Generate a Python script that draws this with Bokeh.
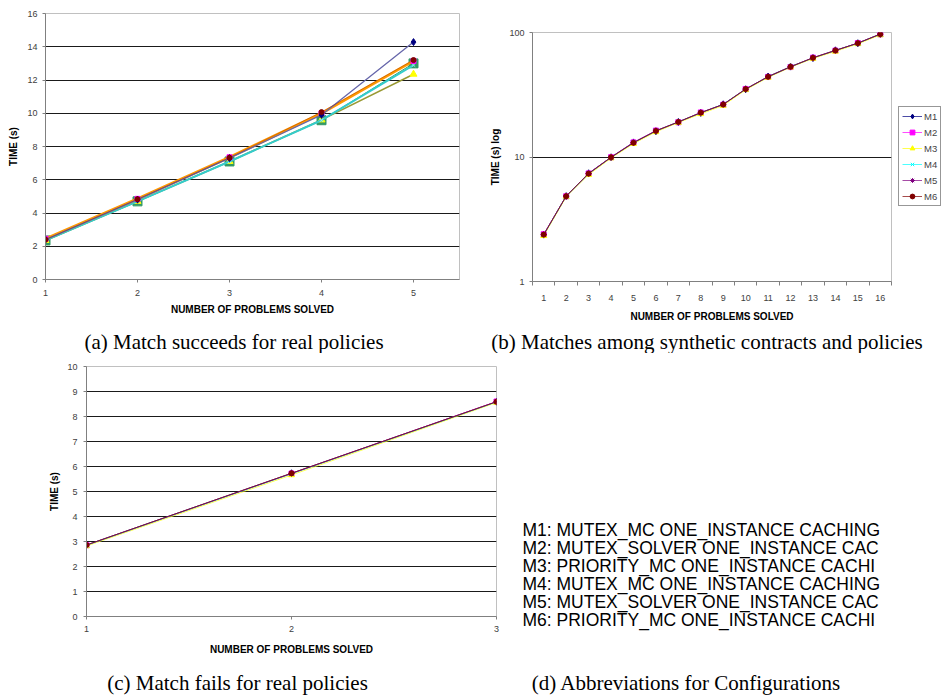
from bokeh.plotting import figure
from bokeh.layouts import row, column
from bokeh.models import Range1d, FixedTicker, Legend, LegendItem, PrintfTickFormatter
from bokeh.core.properties import value
from bokeh.embed import file_html
from bokeh.resources import INLINE

SANS = "Liberation Sans"
SERIF = "Liberation Serif"

# ---------------- data ----------------
# (a) Match succeeds for real policies
a_x = [1, 2, 3, 4, 5]
a_m1 = [2.40, 4.80, 7.30, 9.90, 14.28]
a_m2 = [2.45, 4.85, 7.35, 10.00, 13.15]
a_m3 = [2.35, 4.70, 7.10, 9.60, 12.35]
a_m4 = [2.35, 4.70, 7.10, 9.58, 12.90]
a_m5 = [2.35, 4.70, 7.10, 9.58, 13.00]
a_m6 = [2.40, 4.83, 7.33, 10.07, 13.20]
a_xticks = [1, 2, 3, 4, 5]
a_yticks = [0, 2, 4, 6, 8, 10, 12, 14, 16]

# (b) Matches among synthetic contracts and policies (log scale)
b_x = list(range(1, 17))
b_m1 = [2.38, 4.85, 7.40, 9.95, 13.1, 16.1, 19.1, 22.6, 26.5, 35.0, 44.3, 53.2, 62.4, 71.9, 82.0, 97.2]
b_m2 = [2.40, 4.83, 7.38, 9.96, 13.1, 16.3, 19.0, 22.8, 26.3, 35.2, 44.0, 52.8, 62.8, 71.5, 82.3, 96.8]
b_m3 = [2.33, 4.78, 7.20, 9.80, 12.8, 15.9, 18.9, 22.2, 25.9, 34.6, 43.5, 52.6, 61.8, 70.5, 81.0, 95.5]
b_m4 = [2.37, 4.84, 7.33, 9.93, 13.0, 16.2, 19.1, 22.7, 26.4, 35.1, 44.0, 53.0, 62.5, 71.6, 82.0, 96.9]
b_m5 = [2.38, 4.86, 7.36, 9.95, 13.05, 16.25, 19.15, 22.75, 26.45, 35.15, 44.2, 53.1, 62.7, 71.8, 82.2, 97.1]
b_m6 = [2.38, 4.84, 7.35, 9.94, 13.0, 16.2, 19.1, 22.7, 26.4, 35.1, 44.1, 53.0, 62.6, 71.7, 82.1, 97.0]
b_labels = ["M1", "M2", "M3", "M4", "M5", "M6"]
b_yticks = [1, 10, 100]

# (c) Match fails for real policies
c_x = [1, 2, 3]
c_m1 = [2.86, 5.73, 8.59]
c_m2 = [2.85, 5.72, 8.60]
c_m3 = [2.82, 5.66, 8.56]
c_m4 = [2.85, 5.71, 8.58]
c_m5 = [2.86, 5.72, 8.59]
c_m6 = [2.86, 5.73, 8.59]
c_xticks = [1, 2, 3]
c_yticks = list(range(0, 11))

# (d) Abbreviations (as far as visible in the reference)
d_lines = [
    "M1: MUTEX_MC ONE_INSTANCE CACHING",
    "M2: MUTEX_SOLVER ONE_INSTANCE CAC",
    "M3: PRIORITY_MC ONE_INSTANCE CACHI",
    "M4: MUTEX_MC ONE_INSTANCE CACHING",
    "M5: MUTEX_SOLVER ONE_INSTANCE CAC",
    "M6: PRIORITY_MC ONE_INSTANCE CACHI",
]
captions = [
    "(a) Match succeeds for real policies",
    "(b) Matches among synthetic contracts and policies",
    "(c) Match fails for real policies",
    "(d) Abbreviations for Configurations",
]
x_title = "NUMBER OF PROBLEMS SOLVED"

# Excel default series colours / markers
ser_colors = ["#000080", "#FF00FF", "#FFFF00", "#00FFFF", "#800080", "#800000"]
ser_markers = ["diamond", "square", "triangle", "x", "asterisk", "circle"]
ser_sizes = [7, 5, 6, 6, 6, 5]


def make_chart(width, height, borders, x_range, y_range, y_type="linear"):
    l, r, t, b = borders
    p = figure(width=width, height=height, x_range=x_range, y_range=y_range,
               y_axis_type=y_type, output_backend="svg", toolbar_location=None,
               title=None, min_border_left=l, min_border_right=r, min_border_top=t,
               min_border_bottom=b)
    p.frame_align = False
    p.outline_line_color = "#c0c0c0"
    p.background_fill_color = "white"
    p.border_fill_color = "white"
    p.xgrid.visible = False
    p.ygrid.grid_line_color = "#1a1a1a"
    p.ygrid.grid_line_width = 1
    for ax in p.axis:
        ax.axis_line_color = "#808080"
        ax.major_tick_line_color = "#808080"
        ax.major_tick_in = 0
        ax.major_tick_out = 3
        ax.minor_tick_line_color = None
        ax.major_label_text_font = SANS
        ax.major_label_text_font_size = "9px"
        ax.major_label_text_color = "#404040"
        ax.axis_label_text_font = SANS
        ax.axis_label_text_font_size = "10px"
        ax.axis_label_text_font_style = "bold"
        ax.axis_label_text_color = "black"
    return p


def make_blank_fig(width, height, x_range=None, y_range=None):
    p = figure(width=width, height=height,
               x_range=x_range if x_range is not None else Range1d(0, width),
               y_range=y_range if y_range is not None else Range1d(height, 0),
               x_axis_type=None, y_axis_type=None,
               output_backend="svg", toolbar_location=None, title=None, min_border=0)
    p.frame_align = False
    p.outline_line_color = None
    p.background_fill_color = "white"
    p.border_fill_color = "white"
    return p


ROW1_H, CAP1_H, ROW2_H, CAP2_H = 326, 27, 315, 28

# ---------------- (a) ----------------
pa = make_chart(478, ROW1_H, (45, 19, 13, 47), Range1d(1, 5.5), Range1d(0, 16))
pa.xaxis.ticker = FixedTicker(ticks=a_xticks)
pa.yaxis.ticker = FixedTicker(ticks=a_yticks)
pa.ygrid.ticker = FixedTicker(ticks=a_yticks[1:-1])
pa.xaxis.axis_label = x_title
pa.yaxis.axis_label = "TIME (s)"
pa.xaxis.major_label_standoff = 7
pa.xaxis.axis_label_standoff = 5
pa.yaxis.major_label_standoff = 5
pa.yaxis.axis_label_standoff = 5

# green squares series (line hidden below cyan)
pa.line(a_x, a_m5, line_color="#339966", line_width=1)
pa.scatter(a_x, a_m5, marker="square", size=9, fill_color="#339966", line_color="#339966")
# olive line + yellow triangles
pa.line(a_x, a_m3, line_color="#999933", line_width=1.6)
pa.scatter(a_x, a_m3, marker="triangle", size=7, fill_color="#FFFF00", line_color="#FFFF00")
# cyan line
pa.line(a_x, a_m4, line_color="#33CCCC", line_width=2)
pa.scatter(a_x, a_m4, marker="x", size=5, line_color="#99EEEE")
# orange line, magenta squares
pa.line(a_x, a_m2, line_color="#FF9900", line_width=2.8)
pa.scatter(a_x, a_m2, marker="square", size=5, fill_color="#FF00FF", line_color="#FF00FF")
# navy line + diamonds
pa.line(a_x, a_m1, line_color="#6666AA", line_width=1.3)
pa.scatter(a_x, a_m1, marker="diamond", size=7, fill_color="#000080", line_color="#000080")
# dark red circles
pa.line(a_x, a_m6, line_color="#800000", line_width=1, line_alpha=0.3)
pa.scatter(a_x, a_m6, marker="circle", size=5, fill_color="#800000", line_color="#800000")

# ---------------- (b) ----------------
pb = make_chart(415, ROW1_H, (54, 2, 32, 45), Range1d(0.5, 16.5), Range1d(1, 100), y_type="log")
pb.xaxis.ticker = FixedTicker(ticks=b_x, minor_ticks=[v - 0.5 for v in b_x] + [b_x[-1] + 0.5])
pb.xaxis.major_tick_out = 0
pb.xaxis.minor_tick_line_color = "#808080"
pb.xaxis.minor_tick_out = 4
pb.xaxis.minor_tick_in = 0
pb.yaxis.ticker = FixedTicker(ticks=b_yticks)
pb.yaxis.formatter = PrintfTickFormatter(format="%d")
pb.ygrid.ticker = FixedTicker(ticks=[10])
pb.xaxis.axis_label = x_title
pb.yaxis.axis_label = "TIME (s) log"
pb.xaxis.major_label_standoff = 9
pb.xaxis.axis_label_standoff = 7
pb.yaxis.major_label_standoff = 5
pb.yaxis.axis_label_standoff = 5

# legend panel to the right of (b): key renderers carry the series but sit
# outside this panel's ranges, so only the legend keys are visible
pleg = make_blank_fig(51, ROW1_H, x_range=Range1d(-20, -19), y_range=Range1d(-20, -19))

items = []
for name, ys, col, mk, sz in zip(b_labels, [b_m1, b_m2, b_m3, b_m4, b_m5, b_m6],
                                 ser_colors, ser_markers, ser_sizes):
    pb.line(b_x, ys, line_color=col, line_width=1, line_alpha=0.7)
    pb.scatter(b_x, ys, marker=mk, size=sz, fill_color=col, line_color=col)
    kl = pleg.line(b_x, ys, line_color=col, line_width=1, line_alpha=0.7)
    ks = pleg.scatter(b_x, ys, marker=mk, size=sz, fill_color=col, line_color=col)
    items.append(LegendItem(label=name, renderers=[kl, ks]))
leg = Legend(items=items, location=(5, 120), orientation="vertical",
             glyph_width=20, glyph_height=12, label_height=12, label_width=12,
             label_standoff=2, spacing=4, padding=3, margin=0,
             label_text_font=SANS, label_text_font_size="9.5px",
             border_line_color="#303030", border_line_width=1,
             background_fill_color="white")
pleg.add_layout(leg, "center")

# ---------------- (c) ----------------
pc = make_chart(510, ROW2_H, (86, 14, 13, 52), Range1d(1, 3), Range1d(0, 10))
pc.xaxis.ticker = FixedTicker(ticks=c_xticks)
pc.yaxis.ticker = FixedTicker(ticks=c_yticks)
pc.ygrid.ticker = FixedTicker(ticks=c_yticks[1:-1])
pc.xaxis.axis_label = x_title
pc.yaxis.axis_label = "TIME (s)"
pc.xaxis.major_label_standoff = 6
pc.xaxis.axis_label_standoff = 9
pc.yaxis.major_label_standoff = 6
pc.yaxis.axis_label_standoff = 4
for ys, col, mk, sz in zip([c_m1, c_m2, c_m3, c_m4, c_m5, c_m6],
                           ser_colors, ser_markers, ser_sizes):
    pc.line(c_x, ys, line_color=col, line_width=1, line_alpha=0.7)
    pc.scatter(c_x, ys, marker=mk, size=sz, fill_color=col, line_color=col)

# ---------------- (d) text ----------------
pd_ = make_blank_fig(434, ROW2_H)
d_y0, d_dy = 176.5, 18
pd_.text(x=[12] * len(d_lines), y=[d_y0 + i * d_dy for i in range(len(d_lines))],
         text=d_lines, text_font=value(SANS), text_font_size="17.5px",
         text_align="left", text_baseline="middle", text_color="black")

# ---------------- captions ----------------
def caption_fig(width, height, cx, cy, txt):
    p = make_blank_fig(width, height)
    p.text(x=[cx], y=[cy], text=[txt], text_font=value(SERIF), text_font_size="21px",
           text_align="center", text_baseline="middle", text_color="black")
    return p

cap_a = caption_fig(478, CAP1_H, 233.5, 15, captions[0])
cap_b = caption_fig(466, CAP1_H, 228.5, 15, captions[1])
cap_c = caption_fig(510, CAP2_H, 237, 14, captions[2])
cap_d = caption_fig(434, CAP2_H, 176, 14, captions[3])

layout = column(row(pa, pb, pleg), row(cap_a, cap_b), row(pc, pd_), row(cap_c, cap_d))

with open("out.html", "w") as f:
    f.write(file_html(layout, INLINE))
